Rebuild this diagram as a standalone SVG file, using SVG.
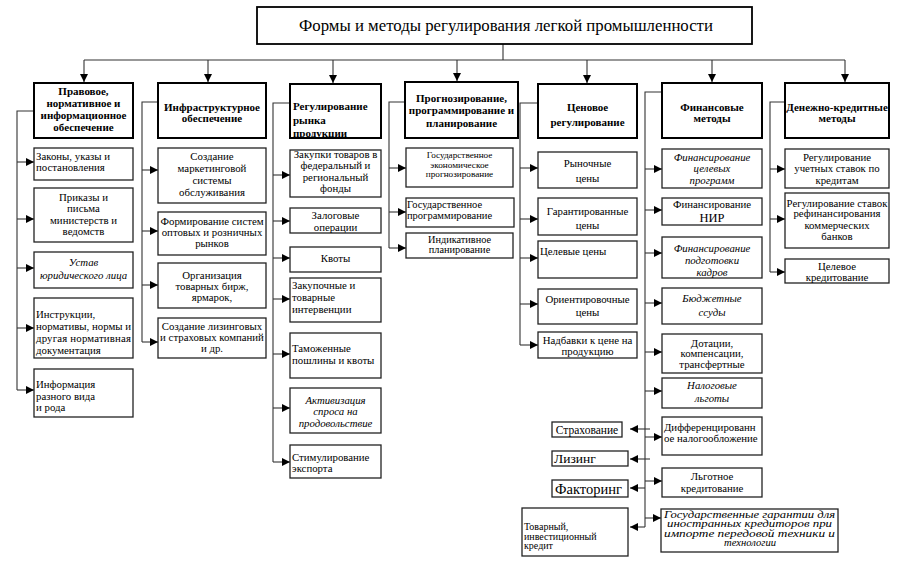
<svg xmlns="http://www.w3.org/2000/svg" width="899" height="562" viewBox="0 0 899 562" font-family="Liberation Serif, serif" font-size="10.8">
<defs>
<marker id="ah" markerUnits="userSpaceOnUse" markerWidth="9" markerHeight="8" refX="8" refY="4" orient="auto">
<path d="M0,0 L8,4 L0,8 z" fill="#000"/>
</marker>
</defs>
<style>
.hr{fill:#fff;stroke:#000;stroke-width:2}
.nr{fill:#fff;stroke:#222;stroke-width:1.3}
.b{font-weight:bold;font-size:11px}
.c{text-anchor:middle}
.i{font-style:italic}
.s{font-size:9.2px}
.ln{fill:none;stroke:#333;stroke-width:1.1}
.a{fill:none;stroke:#333;stroke-width:1.1;marker-end:url(#ah)}
</style>
<rect width="899" height="562" fill="#fff"/>

<g id="conn">
<path class="ln" d="M503,44 V60 M84,60 H845"/>
<path class="a" d="M84,60 V82"/>
<path class="a" d="M208,60 V82"/>
<path class="a" d="M333,60 V83"/>
<path class="a" d="M457,60 V81"/>
<path class="a" d="M587,60 V83"/>
<path class="a" d="M712,60 V82"/>
<path class="a" d="M845,60 V82"/>
<path class="ln" d="M34,111 H17 V390"/>
<path class="a" d="M17,162 H34"/><path class="a" d="M17,219 H34"/><path class="a" d="M17,268 H34"/><path class="a" d="M17,328 H34"/><path class="a" d="M17,390 H34"/>
<path class="ln" d="M158,102 H142 V342"/>
<path class="a" d="M142,170 H158"/><path class="a" d="M142,231 H158"/><path class="a" d="M142,285 H158"/><path class="a" d="M142,342 H158"/>
<path class="ln" d="M290,103 H273 V462"/>
<path class="a" d="M273,175 H290"/><path class="a" d="M273,221 H290"/><path class="a" d="M273,258 H290"/><path class="a" d="M273,299 H290"/><path class="a" d="M273,354 H290"/><path class="a" d="M273,408 H290"/><path class="a" d="M273,462 H290"/>
<path class="ln" d="M405,102 H389 V248"/>
<path class="a" d="M389,168 H406"/><path class="a" d="M389,212 H406"/><path class="a" d="M389,248 H406"/>
<path class="ln" d="M538,103 H520 V345"/>
<path class="a" d="M520,168 H538"/><path class="a" d="M520,219 H538"/><path class="a" d="M520,258 H538"/><path class="a" d="M520,304 H538"/><path class="a" d="M520,345 H538"/>
<path class="ln" d="M662,92 H645 V527"/>
<path class="a" d="M645,169 H662"/><path class="a" d="M645,210 H662"/><path class="a" d="M645,253 H662"/><path class="a" d="M645,303 H662"/><path class="a" d="M645,352 H662"/><path class="a" d="M645,391 H662"/><path class="a" d="M645,437 H662"/><path class="a" d="M645,481 H662"/><path class="a" d="M645,518 H661"/>
<path class="a" d="M650,429 H630"/><path class="a" d="M650,459 H630"/><path class="a" d="M645,488 H630"/><path class="a" d="M645,527 H630"/>
<path class="ln" d="M785,102 H770 V272"/>
<path class="a" d="M770,169 H785"/><path class="a" d="M770,219 H785"/><path class="a" d="M770,272 H785"/>
</g>

<g id="title">
<rect class="hr" x="257" y="7" width="495" height="37" style="stroke-width:1.8"/>
<text x="506" y="31" class="c" font-size="16.8">Формы и методы регулирования легкой промышленности</text>
</g>

<g id="h1"><rect class="hr" x="34" y="83" width="99" height="55"/>
<text class="c b"><tspan x="83.5" y="95">Правовое,</tspan><tspan x="83.5" y="107">нормативное и</tspan><tspan x="83.5" y="119">информационное</tspan><tspan x="83.5" y="131">обеспечение</tspan></text></g>
<g id="h2"><rect class="hr" x="158" y="83" width="108" height="55"/>
<text class="c b"><tspan x="212" y="110.5">Инфраструктурное</tspan><tspan x="212" y="122">обеспечение</tspan></text></g>
<g id="h3"><rect class="hr" x="290" y="84" width="91" height="54"/>
<text class="b"><tspan x="293" y="110">Регулирование</tspan><tspan x="293" y="123.5">рынка</tspan><tspan x="293" y="137">продукции</tspan></text></g>
<g id="h4"><rect class="hr" x="405" y="82" width="113" height="56"/>
<text class="c b"><tspan x="461.5" y="101.5">Прогнозирование,</tspan><tspan x="461.5" y="114">программирование и</tspan><tspan x="461.5" y="126.5">планирование</tspan></text></g>
<g id="h5"><rect class="hr" x="538" y="84" width="99" height="54"/>
<text class="c b"><tspan x="587.5" y="110.5">Ценовое</tspan><tspan x="587.5" y="125.5">регулирование</tspan></text></g>
<g id="h6"><rect class="hr" x="662" y="83" width="100" height="55"/>
<text class="c b"><tspan x="712" y="110.5">Финансовые</tspan><tspan x="712" y="122">методы</tspan></text></g>
<g id="h7"><rect class="hr" x="785" y="83" width="104" height="55"/>
<text class="c b"><tspan x="837" y="110.5">Денежно-кредитные</tspan><tspan x="837" y="122">методы</tspan></text></g>

<g id="n1a"><rect class="nr" x="34" y="148" width="99" height="32"/>
<text><tspan x="36" y="159.5">Законы, указы и</tspan><tspan x="36" y="170.5">постановления</tspan></text></g>
<g id="n1b"><rect class="nr" x="34" y="188" width="99" height="54"/>
<text class="c"><tspan x="83.5" y="200.5">Приказы и</tspan><tspan x="83.5" y="212">письма</tspan><tspan x="83.5" y="223.5">министерств и</tspan><tspan x="83.5" y="235">ведомств</tspan></text></g>
<g id="n1c"><rect class="nr" x="34" y="252" width="99" height="36"/>
<text class="c i"><tspan x="83.5" y="266">Устав</tspan><tspan x="83.5" y="278.5">юридического лица</tspan></text></g>
<g id="n1d"><rect class="nr" x="34" y="298" width="99" height="60"/>
<text x="36" y="317.5">Инструкции,</text>
<text x="36" y="329.5" textLength="95" lengthAdjust="spacing">нормативы, нормы и</text>
<text x="36" y="341.5" textLength="95" lengthAdjust="spacing">другая  нормативная</text>
<text x="36" y="353.5">документация</text></g>
<g id="n1e"><rect class="nr" x="34" y="369" width="99" height="48"/>
<text><tspan x="36" y="387.5">Информация</tspan><tspan x="36" y="399.5">разного вида</tspan><tspan x="36" y="411">и рода</tspan></text></g>

<g id="n2a"><rect class="nr" x="158" y="148" width="108" height="55"/>
<text class="c"><tspan x="212" y="159.5">Создание</tspan><tspan x="212" y="171.5">маркетинговой</tspan><tspan x="212" y="183.5">системы</tspan><tspan x="212" y="195.5">обслуживания</tspan></text></g>
<g id="n2b"><rect class="nr" x="158" y="212" width="108" height="43"/>
<text class="c"><tspan x="212" y="224.5">Формирование систем</tspan><tspan x="212" y="235.5">оптовых и розничных</tspan><tspan x="212" y="247">рынков</tspan></text></g>
<g id="n2c"><rect class="nr" x="158" y="263" width="108" height="45"/>
<text class="c"><tspan x="212" y="278.5">Организация</tspan><tspan x="212" y="289.5">товарных бирж,</tspan><tspan x="212" y="301">ярмарок,</tspan></text></g>
<g id="n2d"><rect class="nr" x="158" y="318" width="108" height="40"/>
<text class="c"><tspan x="212" y="329.5">Создание лизинговых</tspan><tspan x="212" y="340.5">и страховых компаний</tspan><tspan x="212" y="352">и др.</tspan></text></g>

<g id="n3a"><rect class="nr" x="290" y="150" width="91" height="47"/>
<text class="c"><tspan x="335.5" y="158">Закупки товаров в</tspan><tspan x="335.5" y="169">федеральный и</tspan><tspan x="335.5" y="180.5">региональный</tspan><tspan x="335.5" y="192">фонды</tspan></text></g>
<g id="n3b"><rect class="nr" x="290" y="208" width="91" height="25"/>
<text class="c"><tspan x="335.5" y="218.5">Залоговые</tspan><tspan x="335.5" y="230.5">операции</tspan></text></g>
<g id="n3c"><rect class="nr" x="290" y="247" width="91" height="25"/>
<text class="c" x="335.5" y="261.5">Квоты</text></g>
<g id="n3d"><rect class="nr" x="290" y="278" width="91" height="44"/>
<text><tspan x="292" y="289">Закупочные и</tspan><tspan x="292" y="301">товарные</tspan><tspan x="292" y="313">интервенции</tspan></text></g>
<g id="n3e"><rect class="nr" x="290" y="333" width="91" height="45"/>
<text><tspan x="292" y="351.5">Таможенные</tspan><tspan x="292" y="364">пошлины и квоты</tspan></text></g>
<g id="n3f"><rect class="nr" x="290" y="388" width="91" height="45"/>
<text class="c i"><tspan x="335.5" y="403.5">Активизация</tspan><tspan x="335.5" y="414.5">спроса на</tspan><tspan x="335.5" y="427">продовольствие</tspan></text></g>
<g id="n3g"><rect class="nr" x="290" y="445" width="91" height="33"/>
<text><tspan x="292" y="460.5">Стимулирование</tspan><tspan x="292" y="472">экспорта</tspan></text></g>

<g id="n4a"><rect class="nr" x="406" y="148" width="107" height="39"/>
<text class="c s"><tspan x="459.5" y="158">Государственное</tspan><tspan x="459.5" y="167.5">экономическое</tspan><tspan x="459.5" y="177">прогнозирование</tspan></text></g>
<g id="n4b"><rect class="nr" x="406" y="198" width="108" height="29"/>
<text font-size="10.5"><tspan x="407" y="207.5">Государственное</tspan><tspan x="407" y="218.5">программирование</tspan></text></g>
<g id="n4c"><rect class="nr" x="406" y="233" width="107" height="25"/>
<text class="c" font-size="10.3"><tspan x="459.5" y="243">Индикативное</tspan><tspan x="459.5" y="253">планирование</tspan></text></g>

<g id="n5a"><rect class="nr" x="538" y="152" width="99" height="36"/>
<text class="c"><tspan x="587.5" y="166.5">Рыночные</tspan><tspan x="587.5" y="182">цены</tspan></text></g>
<g id="n5b"><rect class="nr" x="538" y="198" width="99" height="37"/>
<text class="c"><tspan x="587.5" y="214.5">Гарантированные</tspan><tspan x="587.5" y="228.5">цены</tspan></text></g>
<g id="n5c"><rect class="nr" x="538" y="241" width="99" height="37"/>
<text x="540" y="254.5">Целевые цены</text></g>
<g id="n5d"><rect class="nr" x="538" y="289" width="99" height="35"/>
<text class="c"><tspan x="587.5" y="302.5">Ориентировочные</tspan><tspan x="587.5" y="315.5">цены</tspan></text></g>
<g id="n5e"><rect class="nr" x="538" y="332" width="99" height="26"/>
<text class="c"><tspan x="587.5" y="343.5">Надбавки к цене на</tspan><tspan x="587.5" y="354.5">продукцию</tspan></text></g>

<g id="n6a"><rect class="nr" x="662" y="149" width="100" height="39"/>
<text class="c i"><tspan x="712" y="160.5">Финансирование</tspan><tspan x="712" y="171.5">целевых</tspan><tspan x="712" y="183.5">программ</tspan></text></g>
<g id="n6b"><rect class="nr" x="662" y="198" width="100" height="27"/>
<text class="c"><tspan x="712" y="207.5">Финансирование</tspan><tspan x="712" y="222" font-size="12.5">НИР</tspan></text></g>
<g id="n6c"><rect class="nr" x="662" y="237" width="100" height="41"/>
<text class="c i"><tspan x="712" y="251.5">Финансирование</tspan><tspan x="712" y="263.5">подготовки</tspan><tspan x="712" y="275.5">кадров</tspan></text></g>
<g id="n6d"><rect class="nr" x="662" y="288" width="100" height="36"/>
<text class="c i"><tspan x="712" y="301.5">Бюджетные</tspan><tspan x="712" y="315.5">ссуды</tspan></text></g>
<g id="n6e"><rect class="nr" x="662" y="334" width="100" height="39"/>
<text class="c"><tspan x="712" y="346.5">Дотации,</tspan><tspan x="712" y="357">компенсации,</tspan><tspan x="712" y="368">трансфертные</tspan></text></g>
<g id="n6f"><rect class="nr" x="662" y="378" width="100" height="30"/>
<text class="c i"><tspan x="712" y="388.5">Налоговые</tspan><tspan x="712" y="401.5">льготы</tspan></text></g>
<g id="n6g"><rect class="nr" x="662" y="417" width="100" height="38"/>
<text><tspan x="664" y="430.5">Дифференцированн</tspan><tspan x="664" y="441.5">ое налогообложение</tspan></text></g>
<g id="n6h"><rect class="nr" x="662" y="468" width="100" height="29"/>
<text class="c"><tspan x="712" y="479.5">Льготное</tspan><tspan x="712" y="491.5">кредитование</tspan></text></g>
<g id="n6i"><rect class="nr" x="661" y="509" width="177" height="43"/>
<text class="c i" font-size="10.5" x="749.5" y="517.5" textLength="171" lengthAdjust="spacingAndGlyphs">Государственные гарантии для</text>
<text class="c i" font-size="10.5" x="749.5" y="527" textLength="165" lengthAdjust="spacingAndGlyphs">иностранных кредиторов при</text>
<text class="c i" font-size="10.5" x="749.5" y="536.5" textLength="171" lengthAdjust="spacingAndGlyphs">импорте передовой техники и</text>
<text class="c i" font-size="10.5" x="750" y="546" textLength="52" lengthAdjust="spacingAndGlyphs">технологии</text></g>

<g id="l1"><rect class="nr" x="552" y="422" width="70" height="15"/>
<text class="c" x="587" y="433.5" font-size="11.5">Страхование</text></g>
<g id="l2"><rect class="nr" x="552" y="451" width="76" height="15"/>
<text x="554" y="463" font-size="13.5">Лизинг</text></g>
<g id="l3"><rect class="nr" x="552" y="480" width="76" height="17"/>
<text x="555" y="493.5" font-size="14.5">Факторинг</text></g>
<g id="l4"><rect class="nr" x="522" y="508" width="106" height="48"/>
<text font-size="10"><tspan x="524" y="530">Товарный,</tspan><tspan x="524" y="539.5">инвестиционный</tspan><tspan x="524" y="549">кредит</tspan></text></g>

<g id="n7a"><rect class="nr" x="785" y="149" width="104" height="39"/>
<text class="c"><tspan x="837" y="160.5">Регулирование</tspan><tspan x="837" y="171.5">учетных ставок по</tspan><tspan x="837" y="183.5">кредитам</tspan></text></g>
<g id="n7b"><rect class="nr" x="785" y="193" width="104" height="55"/>
<text class="c"><tspan x="837" y="206.5">Регулирование ставок</tspan><tspan x="837" y="217">рефинансирования</tspan><tspan x="837" y="228.5">коммерческих</tspan><tspan x="837" y="240">банков</tspan></text></g>
<g id="n7c"><rect class="nr" x="785" y="259" width="104" height="24"/>
<text class="c"><tspan x="837" y="269.5">Целевое</tspan><tspan x="837" y="280.5">кредитование</tspan></text></g>
</svg>
